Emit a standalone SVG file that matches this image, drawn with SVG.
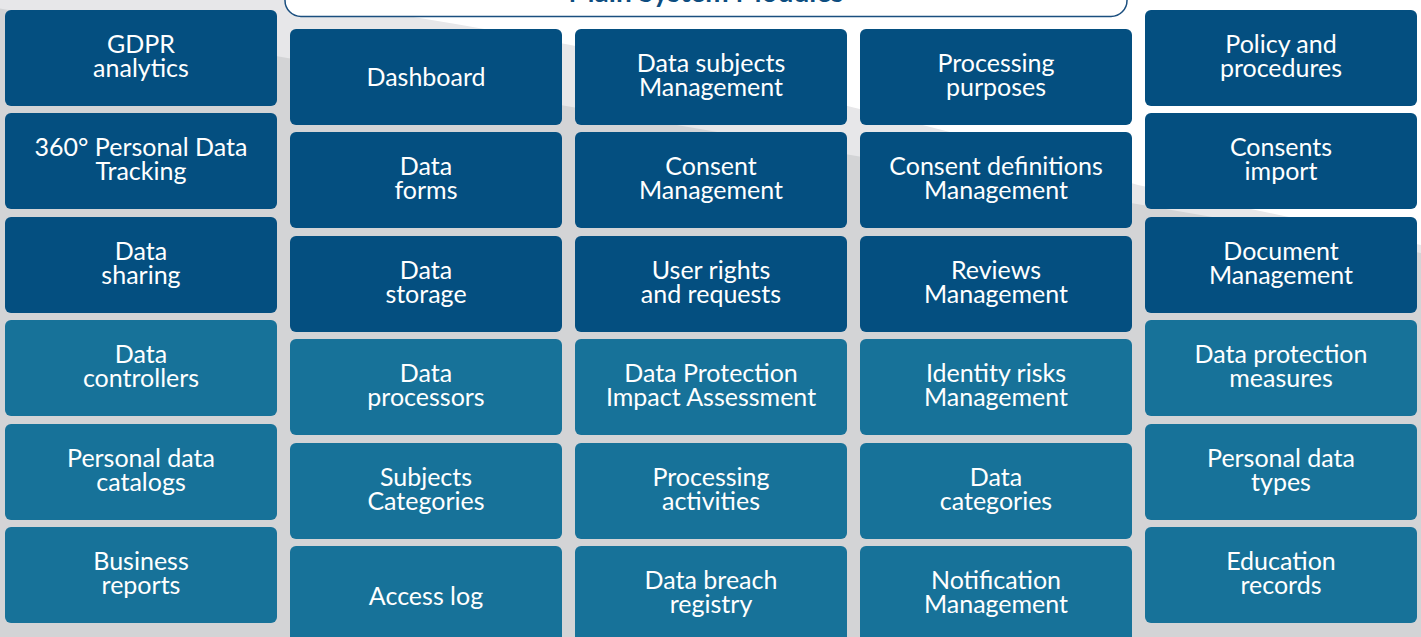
<svg xmlns="http://www.w3.org/2000/svg" width="1421" height="637" viewBox="0 0 1421 637">
<defs>
<style>
.dk{fill:#044f80}
.lt{fill:#177299}
.t{fill:#ffffff;font-family:Lato,"Liberation Sans",sans-serif;font-size:25px;text-anchor:middle}
.title{fill:#0d4d80;font-family:Lato,"Liberation Sans",sans-serif;font-size:28px;font-weight:bold;text-anchor:middle}
</style>
</defs>
<g id="background">
<rect x="0" y="0" width="1421" height="637" fill="#d3d4d6"/>
<path d="M0,0 L1421,0 L1421,253 L0,8.6 Z" fill="#e7e7e9"/>
<path d="M300,0 Q700,55 1138,185 L1421,245 L1421,0 Z" fill="#ffffff"/>
</g>
<g id="title">
<rect x="285" y="-40" width="842" height="56.5" rx="16" fill="#ffffff" stroke="#1b4f7f" stroke-width="1.5"/>
<text class="title" x="706" y="2">Main System Modules</text>
</g>
<g id="gdpr-analytics"><rect class="dk" x="5" y="10" width="272" height="96" rx="6"/><text class="t" x="141" y="53">GDPR</text><text class="t" x="141" y="77">analytics</text></g>
<g id="personal-data-tracking"><rect class="dk" x="5" y="113" width="272" height="96" rx="6"/><text class="t" x="141" y="156">360° Personal Data</text><text class="t" x="141" y="180">Tracking</text></g>
<g id="data-sharing"><rect class="dk" x="5" y="217" width="272" height="96" rx="6"/><text class="t" x="141" y="260">Data</text><text class="t" x="141" y="284">sharing</text></g>
<g id="data-controllers"><rect class="lt" x="5" y="320" width="272" height="96" rx="6"/><text class="t" x="141" y="363">Data</text><text class="t" x="141" y="387">controllers</text></g>
<g id="personal-data-catalogs"><rect class="lt" x="5" y="424" width="272" height="96" rx="6"/><text class="t" x="141" y="467">Personal data</text><text class="t" x="141" y="491">catalogs</text></g>
<g id="business-reports"><rect class="lt" x="5" y="527" width="272" height="96" rx="6"/><text class="t" x="141" y="570">Business</text><text class="t" x="141" y="594">reports</text></g>

<g id="dashboard"><rect class="dk" x="290" y="29" width="272" height="96" rx="6"/><text class="t" x="426" y="86">Dashboard</text></g>
<g id="data-forms"><rect class="dk" x="290" y="132" width="272" height="96" rx="6"/><text class="t" x="426" y="175">Data</text><text class="t" x="426" y="199">forms</text></g>
<g id="data-storage"><rect class="dk" x="290" y="236" width="272" height="96" rx="6"/><text class="t" x="426" y="279">Data</text><text class="t" x="426" y="303">storage</text></g>
<g id="data-processors"><rect class="lt" x="290" y="339" width="272" height="96" rx="6"/><text class="t" x="426" y="382">Data</text><text class="t" x="426" y="406">processors</text></g>
<g id="subjects-categories"><rect class="lt" x="290" y="443" width="272" height="96" rx="6"/><text class="t" x="426" y="486">Subjects</text><text class="t" x="426" y="510">Categories</text></g>
<g id="access-log"><rect class="lt" x="290" y="546" width="272" height="100" rx="6"/><text class="t" x="426" y="605">Access log</text></g>

<g id="data-subjects-management"><rect class="dk" x="575" y="29" width="272" height="96" rx="6"/><text class="t" x="711" y="72">Data subjects</text><text class="t" x="711" y="96">Management</text></g>
<g id="consent-management"><rect class="dk" x="575" y="132" width="272" height="96" rx="6"/><text class="t" x="711" y="175">Consent</text><text class="t" x="711" y="199">Management</text></g>
<g id="user-rights"><rect class="dk" x="575" y="236" width="272" height="96" rx="6"/><text class="t" x="711" y="279">User rights</text><text class="t" x="711" y="303">and requests</text></g>
<g id="dpia"><rect class="lt" x="575" y="339" width="272" height="96" rx="6"/><text class="t" x="711" y="382">Data Protection</text><text class="t" x="711" y="406">Impact Assessment</text></g>
<g id="processing-activities"><rect class="lt" x="575" y="443" width="272" height="96" rx="6"/><text class="t" x="711" y="486">Processing</text><text class="t" x="711" y="510">activities</text></g>
<g id="data-breach-registry"><rect class="lt" x="575" y="546" width="272" height="100" rx="6"/><text class="t" x="711" y="589">Data breach</text><text class="t" x="711" y="613">registry</text></g>

<g id="processing-purposes"><rect class="dk" x="860" y="29" width="272" height="96" rx="6"/><text class="t" x="996" y="72">Processing</text><text class="t" x="996" y="96">purposes</text></g>
<g id="consent-definitions"><rect class="dk" x="860" y="132" width="272" height="96" rx="6"/><text class="t" x="996" y="175">Consent definitions</text><text class="t" x="996" y="199">Management</text></g>
<g id="reviews-management"><rect class="dk" x="860" y="236" width="272" height="96" rx="6"/><text class="t" x="996" y="279">Reviews</text><text class="t" x="996" y="303">Management</text></g>
<g id="identity-risks"><rect class="lt" x="860" y="339" width="272" height="96" rx="6"/><text class="t" x="996" y="382">Identity risks</text><text class="t" x="996" y="406">Management</text></g>
<g id="data-categories"><rect class="lt" x="860" y="443" width="272" height="96" rx="6"/><text class="t" x="996" y="486">Data</text><text class="t" x="996" y="510">categories</text></g>
<g id="notification-management"><rect class="lt" x="860" y="546" width="272" height="100" rx="6"/><text class="t" x="996" y="589">Notification</text><text class="t" x="996" y="613">Management</text></g>

<g id="policy-procedures"><rect class="dk" x="1145" y="10" width="272" height="96" rx="6"/><text class="t" x="1281" y="53">Policy and</text><text class="t" x="1281" y="77">procedures</text></g>
<g id="consents-import"><rect class="dk" x="1145" y="113" width="272" height="96" rx="6"/><text class="t" x="1281" y="156">Consents</text><text class="t" x="1281" y="180">import</text></g>
<g id="document-management"><rect class="dk" x="1145" y="217" width="272" height="96" rx="6"/><text class="t" x="1281" y="260">Document</text><text class="t" x="1281" y="284">Management</text></g>
<g id="data-protection-measures"><rect class="lt" x="1145" y="320" width="272" height="96" rx="6"/><text class="t" x="1281" y="363">Data protection</text><text class="t" x="1281" y="387">measures</text></g>
<g id="personal-data-types"><rect class="lt" x="1145" y="424" width="272" height="96" rx="6"/><text class="t" x="1281" y="467">Personal data</text><text class="t" x="1281" y="491">types</text></g>
<g id="education-records"><rect class="lt" x="1145" y="527" width="272" height="96" rx="6"/><text class="t" x="1281" y="570">Education</text><text class="t" x="1281" y="594">records</text></g>
<g id="connectors"/>
</svg>
